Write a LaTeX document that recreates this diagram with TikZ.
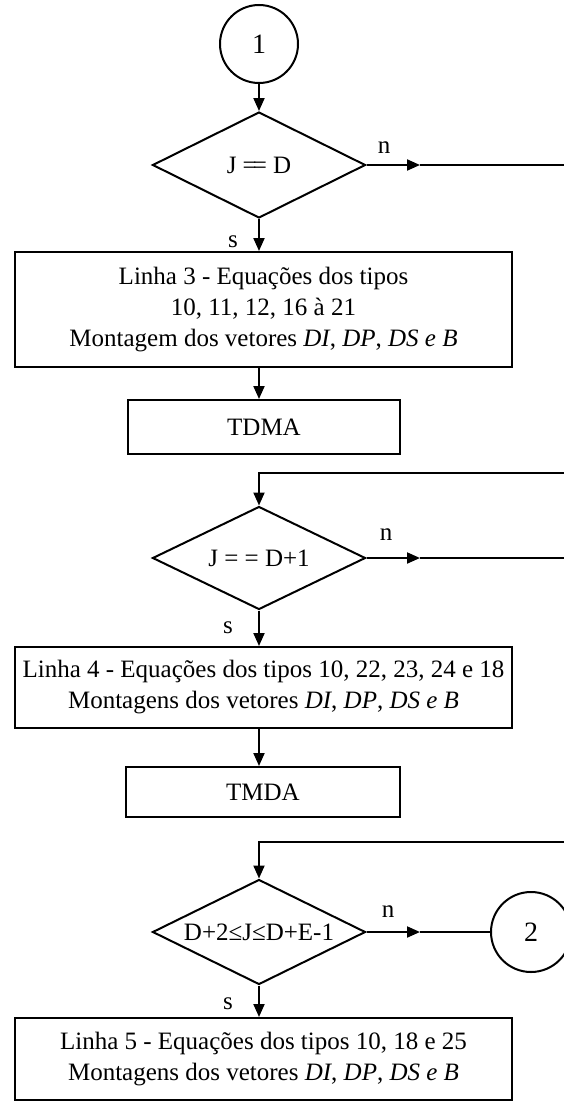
\documentclass[tikz,border=0pt]{standalone}
\usepackage{fontspec}
\setmainfont{Liberation Serif}
\usetikzlibrary{shapes.geometric,arrows.meta}
\begin{document}
\begin{tikzpicture}[x=1pt,y=-1pt,
 line width=2pt,
 every node/.style={font=\fontsize{25}{31}\selectfont},
 dec/.style={diamond,draw,minimum width=213pt,minimum height=106pt,inner sep=0pt},
 dtext/.style={font=\fontsize{25}{30}\selectfont,inner sep=0pt},
 box/.style={rectangle,draw,align=center,inner sep=0pt},
 conn/.style={circle,draw,minimum size=78pt,inner sep=0pt,font=\fontsize{28}{32}\selectfont},
 arr/.style={-{Triangle[length=13pt,width=11pt]}},
 lbl/.style={inner sep=0pt,font=\fontsize{25}{28}\selectfont}]
\useasboundingbox (0,0) rectangle (564,1103);

% nodes
\node[conn] (c1) at (259,44) {1};
\node[dec] (d1) at (259,165) {};
\node[dtext] (d1t) at (d1.center) {J\ =\kern-4pt=\ D};
\node[box,minimum width=497pt,minimum height=115pt] (b1) at (263.5,309.5)
  {Linha 3 - Equações dos tipos\\10, 11, 12, 16 à 21\\Montagem dos vetores \textit{DI}, \textit{DP}, \textit{DS e B}};
\node[box,minimum width=272pt,minimum height=54pt] (t1) at (264,427) {TDMA};

\node[dec,minimum height=103pt] (d2) at (259,558) {};
\node[dtext] (d2t) at (d2.center) {J = = D+1};
\node[box,minimum width=497pt,minimum height=81pt] (b2) at (263.5,687.5)
  {Linha 4 - Equações dos tipos 10, 22, 23, 24 e 18\\Montagens dos vetores \textit{DI}, \textit{DP}, \textit{DS e B}};
\node[box,minimum width=274pt,minimum height=50pt] (t2) at (263,792) {TMDA};

\node[dec,minimum height=105pt] (d3) at (259,932) {};
\node[dtext] (d3t) at (d3.center) {D+2≤J≤D+E-1};
\node[conn,minimum size=80pt] (c2) at (531,932) {2};
\node[box,minimum width=497pt,minimum height=82pt] (b3) at (263.5,1059)
  {Linha 5 - Equações dos tipos 10, 18 e 25\\Montagens dos vetores \textit{DI}, \textit{DP}, \textit{DS e B}};

% labels
\node[lbl] (n1) at (384,148) {n};
\node[lbl] (s1) at (233,242) {s};
\node[lbl] (n2) at (386,535) {n};
\node[lbl] (s2) at (228,628) {s};
\node[lbl] (n3) at (388,912) {n};
\node[lbl] (s3) at (228,1004) {s};

% free ends
\coordinate (m1) at (420,165);
\coordinate (e1) at (564,165);
\coordinate (m2) at (420,558);
\coordinate (e2) at (564,558);
\coordinate (m3) at (420,932);
\coordinate (r2) at (564,473);
\coordinate (r3) at (564,842);

% connectors
\draw[arr] (c1.south) -- (d1.north);
\draw[arr] (d1.south) -- (d1.south |- b1.north);
\draw[arr] (d1.south |- b1.south) -- (d1.south |- t1.north);
\draw[arr] (d1.east) -- (m1);
\draw (m1) -- (e1);

\draw[arr] (r2) -| (d2.north);
\draw[arr] (d2.south) -- (d2.south |- b2.north);
\draw[arr] (d2.south |- b2.south) -- (d2.south |- t2.north);
\draw[arr] (d2.east) -- (m2);
\draw (m2) -- (e2);

\draw[arr] (r3) -| (d3.north);
\draw[arr] (d3.south) -- (d3.south |- b3.north);
\draw[arr] (d3.east) -- (m3);
\draw (m3) -- (c2.west);
\end{tikzpicture}
\end{document}
